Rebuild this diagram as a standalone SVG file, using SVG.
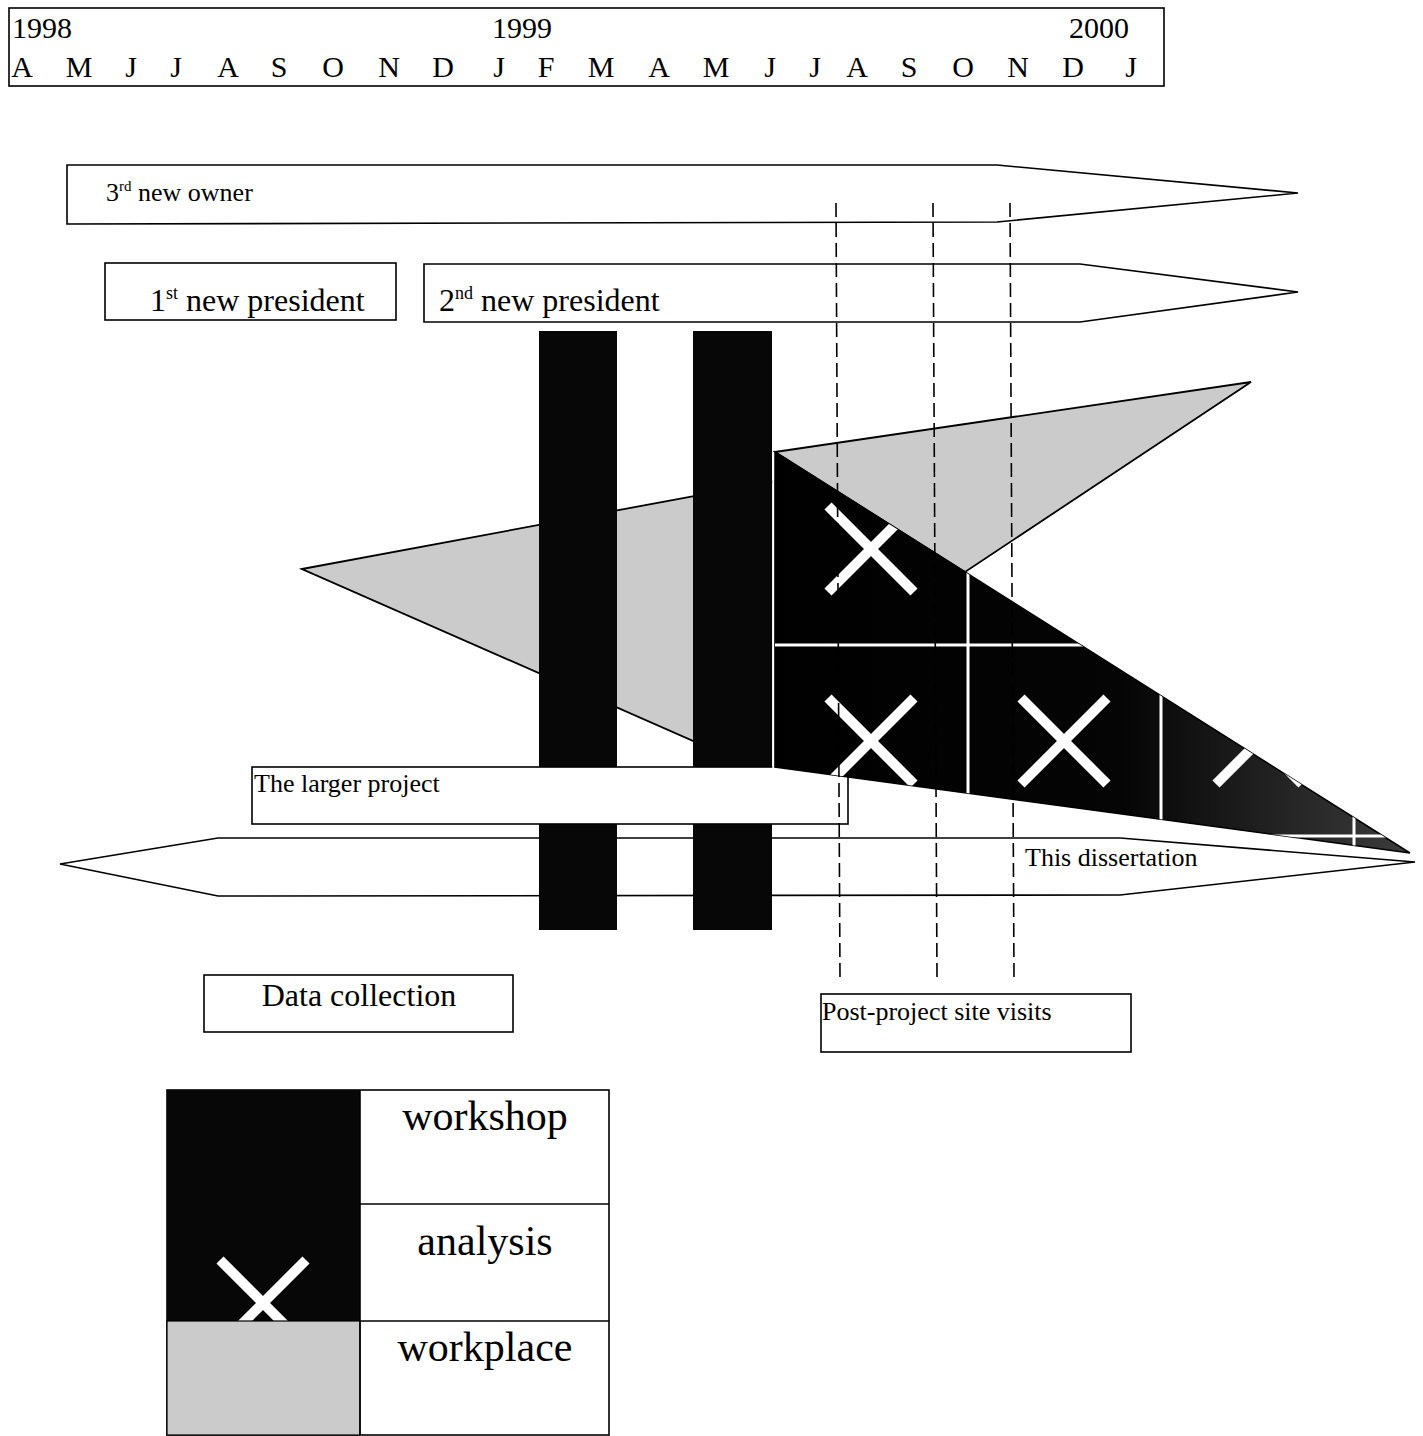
<svg xmlns="http://www.w3.org/2000/svg" width="1423" height="1436" viewBox="0 0 1423 1436">
<style>
text{font-family:"Liberation Serif","Times New Roman",serif;fill:#000}
.box{fill:#fff;stroke:#000;stroke-width:1.6}
.mon{font-size:30px;text-anchor:middle}
.yr{font-size:30px}
.lbl{font-size:26px}
.big{font-size:32px}
.leg{font-size:42px;text-anchor:middle}
.grey{fill:#cbcbcb;stroke:#000;stroke-width:1.8}
.bar{fill:#070707}
.dash{stroke:#000;stroke-width:1.6;stroke-dasharray:14 6;fill:none}
.xw{stroke:#fff;stroke-width:10;fill:none}
.grid{stroke:#fff;stroke-width:3;fill:none}
</style>
<defs>
<linearGradient id="anl" gradientUnits="userSpaceOnUse" x1="775" y1="0" x2="1410" y2="0">
<stop offset="0" stop-color="#000"/>
<stop offset="0.55" stop-color="#050505"/>
<stop offset="1" stop-color="#3c3c3c"/>
</linearGradient>
<clipPath id="anClip"><polygon points="775,452 1410,853 775,767"/></clipPath>
<clipPath id="legClip"><rect x="167" y="1204" width="193" height="117"/></clipPath>
</defs>
<rect width="1423" height="1436" fill="#fff"/>

<g id="timeline">
<rect class="box" x="9" y="8" width="1155" height="78"/>
<text class="yr" x="12" y="38">1998</text>
<text class="yr" x="492" y="38">1999</text>
<text class="yr" x="1069" y="38">2000</text>
<text class="mon" y="77"><tspan x="22">A</tspan><tspan x="79">M</tspan><tspan x="131">J</tspan><tspan x="176">J</tspan><tspan x="228">A</tspan><tspan x="279">S</tspan><tspan x="333">O</tspan><tspan x="389">N</tspan><tspan x="443">D</tspan><tspan x="499">J</tspan><tspan x="546">F</tspan><tspan x="601">M</tspan><tspan x="659">A</tspan><tspan x="716">M</tspan><tspan x="770">J</tspan><tspan x="815">J</tspan><tspan x="857">A</tspan><tspan x="909">S</tspan><tspan x="963">O</tspan><tspan x="1018">N</tspan><tspan x="1073">D</tspan><tspan x="1131">J</tspan></text>
</g>

<g id="owner3">
<polygon class="box" points="67,165 997,165 1298,193 997,222 67,224"/>
<text class="lbl" x="106" y="201">3<tspan font-size="15" dy="-10">rd</tspan><tspan dy="10"> new owner</tspan></text>
</g>

<g id="president1">
<rect class="box" x="105" y="263" width="291" height="57"/>
<text class="big" x="150" y="311">1<tspan font-size="18" dy="-12">st</tspan><tspan dy="12"> new president</tspan></text>
</g>

<g id="president2">
<polygon class="box" points="424,264 1080,264 1298,292 1080,322 424,322"/>
<text class="big" x="439" y="311">2<tspan font-size="18" dy="-12">nd</tspan><tspan dy="12"> new president</tspan></text>
</g>

<g id="workplace">
<polygon class="grey" points="302,569 775,481 775,777"/>
<polygon class="grey" points="775,452 1251,382 965,572"/>
</g>

<g id="dissertation">
<polygon class="box" points="60,864 218,838 1120,838 1415,862 1120,895 218,896"/>
<text class="lbl" x="1025" y="866">This dissertation</text>
</g>

<g id="workshops">
<rect class="bar" x="539" y="331" width="78" height="599"/>
<rect class="bar" x="693" y="331" width="79" height="599"/>
</g>

<g id="larger-project">
<rect class="box" x="252" y="767" width="596" height="57"/>
<text class="lbl" x="254" y="792">The larger project</text>
</g>

<g id="analysis">
<line x1="773.5" y1="452" x2="773.5" y2="768" stroke="#fff" stroke-width="2.5"/>
<polygon points="775,452 1410,853 775,767" fill="url(#anl)" stroke="#000" stroke-width="1.5"/>
<g clip-path="url(#anClip)">
<path class="grid" d="M775,645 H1420 M775,836 H1420 M968,440 V870 M1161,440 V870 M1354,440 V870"/>
<path class="xw" d="M828,506 L914,592 M914,506 L828,592"/>
<path class="xw" d="M828,698 L914,784 M914,698 L828,784"/>
<path class="xw" d="M1021,698 L1107,784 M1107,698 L1021,784"/>
<path class="xw" d="M1216,698 L1302,784 M1302,698 L1216,784"/>
</g>
</g>

<g id="connectors">
<line class="dash" x1="836" y1="203" x2="840" y2="977"/>
<line class="dash" x1="933" y1="203" x2="937" y2="977"/>
<line class="dash" x1="1010" y1="203" x2="1014" y2="977"/>
</g>

<g id="data-collection">
<rect class="box" x="204" y="975" width="309" height="57"/>
<text class="big" x="359" y="1006" text-anchor="middle">Data collection</text>
</g>

<g id="post-project">
<rect class="box" x="821" y="994" width="310" height="58"/>
<text class="lbl" x="822" y="1020">Post-project site visits</text>
</g>

<g id="legend">
<rect class="box" x="167" y="1090" width="442" height="345"/>
<rect x="167" y="1090" width="193" height="114" fill="#070707"/>
<rect x="167" y="1204" width="193" height="117" fill="#070707"/>
<g clip-path="url(#legClip)">
<path class="xw" d="M220,1260 L306,1346 M306,1260 L220,1346"/>
</g>
<rect x="167" y="1321" width="193" height="114" fill="#cbcbcb" stroke="#000" stroke-width="1.2"/>
<line x1="360" y1="1090" x2="360" y2="1435" stroke="#000" stroke-width="1.6"/>
<line x1="360" y1="1204" x2="609" y2="1204" stroke="#000" stroke-width="1.6"/>
<line x1="360" y1="1321" x2="609" y2="1321" stroke="#000" stroke-width="1.6"/>
<text class="leg" x="485" y="1130">workshop</text>
<text class="leg" x="485" y="1255">analysis</text>
<text class="leg" x="485" y="1361">workplace</text>
</g>
</svg>
